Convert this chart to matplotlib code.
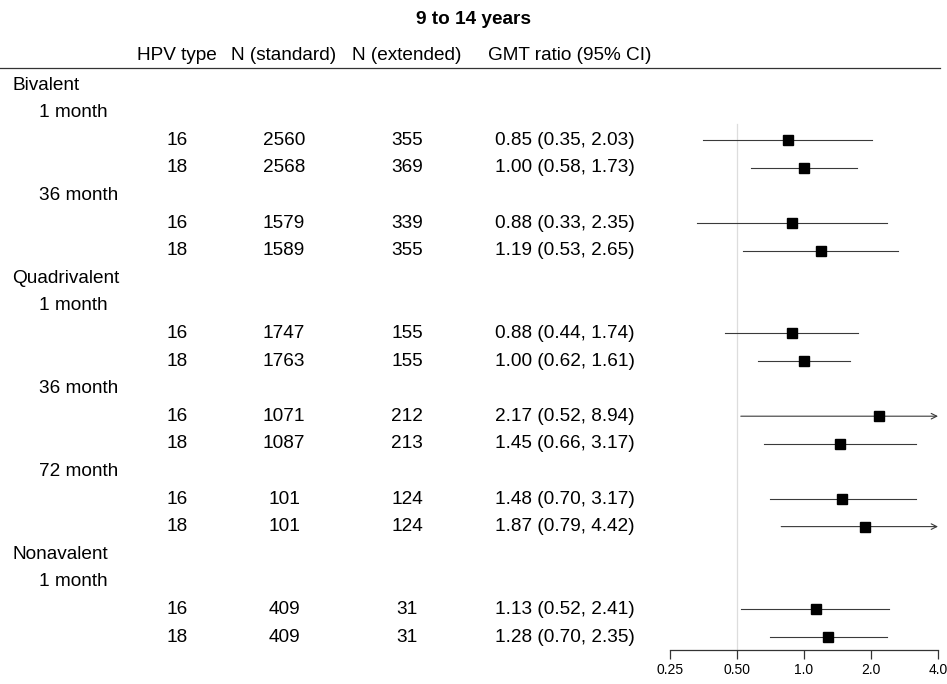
import numpy as np
import matplotlib
matplotlib.use("Agg")
import matplotlib.pyplot as plt
import matplotlib.transforms as mtransforms

plt.rcParams["font.family"] = ["Liberation Sans", "DejaVu Sans"]

# ========= data =========
title = "9 to 14 years"
headers = ["HPV type", "N (standard)", "N (extended)", "GMT ratio (95% CI)"]

vaccines = ["Bivalent", "Quadrivalent", "Nonavalent"]
timepoints = {
    "Bivalent": ["1 month", "36 month"],
    "Quadrivalent": ["1 month", "36 month", "72 month"],
    "Nonavalent": ["1 month"],
}
hpv_types = [16, 18]

n_standard = [2560, 2568, 1579, 1589, 1747, 1763, 1071, 1087, 101, 101, 409, 409]
n_extended = [355, 369, 339, 355, 155, 155, 212, 213, 124, 124, 31, 31]
gmt = [0.85, 1.00, 0.88, 1.19, 0.88, 1.00, 2.17, 1.45, 1.48, 1.87, 1.13, 1.28]
ci_low = [0.35, 0.58, 0.33, 0.53, 0.44, 0.62, 0.52, 0.66, 0.70, 0.79, 0.52, 0.70]
ci_high = [2.03, 1.73, 2.35, 2.65, 1.74, 1.61, 8.94, 3.17, 3.17, 4.42, 2.41, 2.35]

x_ticks = [0.25, 0.5, 1.0, 2.0, 4.0]
x_tick_labels = ["0.25", "0.50", "1.0", "2.0", "4.0"]
ref_line = 0.5
# ========================


def main():
    W, H = 947, 684
    fig = plt.figure(figsize=(W / 100, H / 100), dpi=100)

    # 行布局
    rows = []
    k = 0
    for v in vaccines:
        rows.append(("vaccine", v))
        for t in timepoints[v]:
            rows.append(("time", t))
            for h in hpv_types:
                rows.append(("data", (h, k)))
                k += 1
    nrows = len(rows)

    # 像素几何
    row0_px, rowN_px = 85, 637
    step = (rowN_px - row0_px) / (nrows - 1)
    top_px, bot_px = 68, 650
    left_px, right_px = 670, 938

    ax = fig.add_axes([left_px / W, 1 - bot_px / H,
                       (right_px - left_px) / W, (bot_px - top_px) / H])
    ax.set_xscale("log", base=2)
    ax.set_xlim(0.25, 4.0)
    y_top = -(top_px - row0_px) / step
    y_bot = -(bot_px - row0_px) / step
    ax.set_ylim(y_bot, y_top)
    for s in ["top", "right", "left"]:
        ax.spines[s].set_visible(False)
    ax.spines["bottom"].set_color("#333333")
    ax.spines["bottom"].set_linewidth(0.9)
    ax.set_yticks([])
    ax.set_xticks(x_ticks)
    ax.set_xticklabels(x_tick_labels)
    ax.minorticks_off()
    ax.tick_params(axis="x", length=6.5, width=0.9, color="#333333",
                   labelsize=10, pad=3)
    ax.patch.set_alpha(0)

    # 参考线
    ax.plot([ref_line, ref_line], [-1.4, y_bot], color="#dddddd",
            linewidth=0.9, zorder=0, clip_on=False)

    trans = mtransforms.blended_transform_factory(fig.transFigure, ax.transData)
    fs = 13.7
    col_x = [177, 284, 407, 565]

    for i, (kind, payload) in enumerate(rows):
        y = -i
        if kind == "vaccine":
            fig.text(12 / W, y, payload, transform=trans, ha="left",
                     va="center", fontsize=fs)
        elif kind == "time":
            fig.text(39 / W, y, payload, transform=trans, ha="left",
                     va="center", fontsize=fs)
        else:
            h, j = payload
            vals = [str(h), str(n_standard[j]), str(n_extended[j]),
                    f"{gmt[j]:.2f} ({ci_low[j]:.2f}, {ci_high[j]:.2f})"]
            for cx, v in zip(col_x, vals):
                fig.text(cx / W, y, v, transform=trans, ha="center",
                         va="center", fontsize=fs)
            lo = max(ci_low[j], 0.25)
            hi = min(ci_high[j], 4.0)
            if ci_high[j] > 4.0:
                ax.annotate("", xy=(4.0, y), xytext=(lo, y),
                            arrowprops=dict(arrowstyle="->", color="#3a3a3a",
                                            lw=0.8, shrinkA=0, shrinkB=0,
                                            mutation_scale=10),
                            annotation_clip=False)
            else:
                ax.plot([lo, hi], [y, y], color="#3a3a3a", linewidth=0.8,
                        clip_on=False)
            ax.plot(gmt[j], y, marker="s", color="black", markersize=7,
                    linestyle="none", zorder=3, clip_on=False)

    # 表头
    hdr_y = 1 - 56 / H
    for cx, t in zip(col_x[:3], headers[:3]):
        fig.text(cx / W, hdr_y, t, ha="center", va="center", fontsize=fs)
    fig.text(570 / W, hdr_y, headers[3], ha="center", va="center", fontsize=fs)

    fig.text(0.5, 1 - 19 / H, title, ha="center", va="center",
             fontsize=fs, fontweight="bold")

    # 表头下横线
    line_y = 1 - top_px / H
    fig.add_artist(plt.Line2D([0, 940 / W], [line_y, line_y],
                              transform=fig.transFigure, color="#333333",
                              linewidth=0.9))

    fig.savefig("out.png", dpi=100)
    plt.close(fig)


if __name__ == "__main__":
    main()
